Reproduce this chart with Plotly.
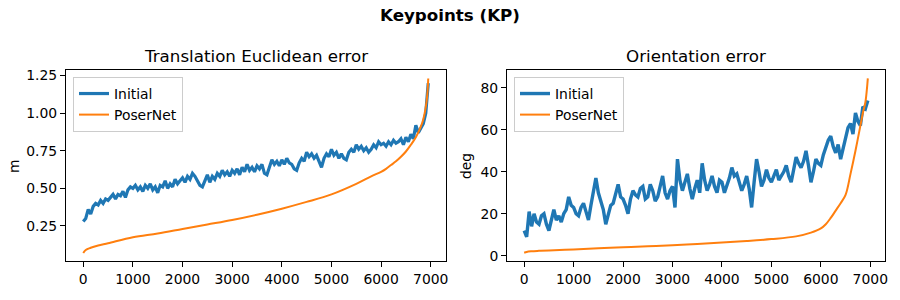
import plotly.graph_objects as go

STEP = 50
trans_initial = [
    0.28, 0.30, 0.36, 0.33, 0.38, 0.40, 0.39, 0.42, 0.40, 0.43,
    0.42, 0.44, 0.46, 0.43, 0.46, 0.45, 0.48, 0.44, 0.49, 0.51,
    0.50, 0.52, 0.49, 0.51, 0.48, 0.52, 0.50, 0.53, 0.49, 0.51,
    0.47, 0.52, 0.51, 0.55, 0.50, 0.53, 0.51, 0.56, 0.53, 0.55,
    0.57, 0.54, 0.58, 0.56, 0.60, 0.58, 0.55, 0.52, 0.51, 0.55,
    0.59, 0.54, 0.58, 0.56, 0.60, 0.58, 0.62, 0.59, 0.61, 0.58,
    0.62, 0.60, 0.63, 0.59, 0.64, 0.61, 0.66, 0.62, 0.64, 0.61,
    0.65, 0.63, 0.66, 0.60, 0.59, 0.64, 0.69, 0.66, 0.68, 0.65,
    0.69, 0.66, 0.70, 0.67, 0.66, 0.63, 0.62, 0.67, 0.70, 0.68,
    0.74, 0.71, 0.73, 0.70, 0.72, 0.68, 0.64, 0.70, 0.73, 0.71,
    0.76, 0.72, 0.74, 0.70, 0.73, 0.70, 0.69, 0.74, 0.76, 0.74,
    0.79, 0.76, 0.78, 0.75, 0.77, 0.74, 0.76, 0.79, 0.77, 0.81,
    0.79, 0.80, 0.78, 0.81, 0.79, 0.82, 0.80, 0.81, 0.83, 0.79,
    0.84, 0.81, 0.86, 0.83, 0.92, 0.87, 0.90, 0.93, 1.00, 1.20,
]
orient_initial = [
    12, 9, 21, 14, 20, 16, 15, 19, 20, 15,
    12, 17, 22, 17, 19, 16, 20, 22, 28, 24,
    23, 20, 19, 23, 25, 21, 17, 24, 30, 37,
    30, 26, 22, 15, 19, 24, 25, 29, 34, 28,
    27, 24, 20, 27, 31, 29, 28, 32, 33, 27,
    28, 34, 31, 26, 28, 33, 38, 30, 27, 31,
    33, 23, 46, 36, 31, 35, 39, 32, 27, 32,
    36, 30, 44, 36, 31, 34, 38, 33, 30, 36,
    35, 30, 33, 37, 42, 38, 39, 35, 31, 34,
    38, 32, 23, 35, 46, 40, 33, 36, 41, 37,
    35, 38, 41, 36, 38, 40, 43, 38, 35, 41,
    47, 44, 42, 45, 50, 43, 35, 40, 46, 44,
    43, 48, 52, 55, 57, 52, 49, 53, 46, 51,
    57, 61, 63, 58, 68, 64, 62, 71, 70, 74,
]
poser_x = [0, 50, 150, 300, 500, 1000, 1500, 2000, 2500, 3000, 3500, 4000,
           4500, 5000, 5500, 5800, 6000, 6100, 6200, 6300, 6400, 6500, 6600,
           6700, 6800, 6850, 6900, 6930, 6950]
trans_poser = [0.07, 0.09, 0.105, 0.12, 0.135, 0.175, 0.20, 0.23, 0.26, 0.29,
               0.325, 0.365, 0.41, 0.46, 0.53, 0.58, 0.61, 0.63, 0.655, 0.68,
               0.71, 0.745, 0.79, 0.84, 0.91, 0.96, 1.04, 1.12, 1.23]
orient_poser = [1.4, 1.8, 2.1, 2.3, 2.5, 3.0, 3.5, 4.0, 4.5, 5.0, 5.6, 6.3,
                7.0, 7.9, 9.2, 11.0, 13.0, 15.0, 18.0, 21.5, 25.0, 29.0, 39.0,
                50.0, 62.0, 68.0, 73.0, 79.0, 84.5]
x_ticks = [0, 1000, 2000, 3000, 4000, 5000, 6000, 7000]
trans_ticks = [0.25, 0.50, 0.75, 1.00, 1.25]
orient_ticks = [0, 20, 40, 60, 80]

x_init = list(range(0, STEP * len(trans_initial), STEP))
BLUE, ORANGE = "#1f77b4", "#ff7f0e"
FONT = "DejaVu Sans"

W, H = 900, 300
ML, MR, MT, MB = 66, 15, 70, 39
PW, PH = W - ML - MR, H - MT - MB


def px(xp):
    return (xp - ML) / PW


def py(yp):
    return (H - MB - yp) / PH


fig = go.Figure()
fig.add_trace(go.Scatter(x=x_init, y=trans_initial, mode="lines", name="Initial",
                         line=dict(color=BLUE, width=3.2), xaxis="x", yaxis="y", legend="legend"))
fig.add_trace(go.Scatter(x=poser_x, y=trans_poser, mode="lines", name="PoserNet",
                         line=dict(color=ORANGE, width=2, shape="spline"), xaxis="x", yaxis="y", legend="legend"))
fig.add_trace(go.Scatter(x=x_init, y=orient_initial, mode="lines", name="Initial",
                         line=dict(color=BLUE, width=3.4), xaxis="x2", yaxis="y2", legend="legend2"))
fig.add_trace(go.Scatter(x=poser_x, y=orient_poser, mode="lines", name="PoserNet",
                         line=dict(color=ORANGE, width=2, shape="spline"), xaxis="x2", yaxis="y2", legend="legend2"))

L = 6950
xr = [-0.05 * L, 1.05 * L]
ax_common = dict(showline=True, linecolor="black", linewidth=1, mirror=True,
                 ticks="outside", ticklen=5, tickcolor="black", showgrid=False,
                 zeroline=False, tickfont=dict(family=FONT, size=13.9, color="black"))
leg_common = dict(xanchor="left", yanchor="top", bgcolor="rgba(255,255,255,0.8)",
                  bordercolor="#cccccc", borderwidth=1,
                  font=dict(family=FONT, size=13.9, color="black"), tracegroupgap=0)
fig.update_layout(
    width=W, height=H, margin=dict(l=ML, r=MR, t=MT, b=MB, autoexpand=False),
    paper_bgcolor="white", plot_bgcolor="white",
    font=dict(family=FONT, color="black"),
    xaxis=dict(domain=[0, px(445.5)], range=xr, tickvals=x_ticks, anchor="y", **ax_common),
    yaxis=dict(domain=[0, 1], range=[0.017, 1.287], tickvals=trans_ticks, tickformat=".2f", anchor="x", **ax_common),
    xaxis2=dict(domain=[px(507), 1], range=xr, tickvals=x_ticks, anchor="y2", **ax_common),
    yaxis2=dict(domain=[0, 1], range=[-2.53, 88.5], tickvals=orient_ticks, anchor="x2", **ax_common),
    legend=dict(x=px(73), y=py(77), **leg_common),
    legend2=dict(x=px(514), y=py(77), **leg_common),
    annotations=[
        dict(text="<b>Keypoints (KP)</b>", x=px(450), y=py(15), xref="paper", yref="paper",
             showarrow=False, font=dict(family=FONT, size=16.7), xanchor="center", yanchor="middle"),
        dict(text="Translation Euclidean error", x=px((66 + 445.5) / 2), y=py(56), xref="paper", yref="paper",
             showarrow=False, font=dict(family=FONT, size=16.7), xanchor="center", yanchor="middle"),
        dict(text="Orientation error", x=px((507 + 885) / 2), y=py(56), xref="paper", yref="paper",
             showarrow=False, font=dict(family=FONT, size=16.7), xanchor="center", yanchor="middle"),
        dict(text="m", x=px(14), y=py(166), xref="paper", yref="paper", textangle=-90,
             showarrow=False, font=dict(family=FONT, size=13.9), xanchor="center", yanchor="middle"),
        dict(text="deg", x=px(466), y=py(166), xref="paper", yref="paper", textangle=-90,
             showarrow=False, font=dict(family=FONT, size=13.9), xanchor="center", yanchor="middle"),
    ],
)
fig.write_html("out.html", config={"displayModeBar": False},
               post_script="document.body.style.margin='0px';")
